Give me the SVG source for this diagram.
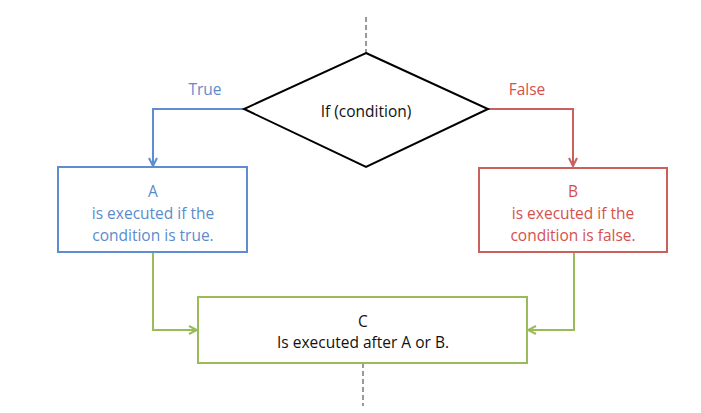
<svg xmlns="http://www.w3.org/2000/svg" width="701" height="413" viewBox="0 0 701 413">
<style>
text{font-family:"Open Sans","Liberation Sans",sans-serif;font-size:15.5px;text-anchor:middle}
.blue{fill:#5a8ccc}.red{fill:#d6504c}.black{fill:#111}
.ln{fill:none;stroke-width:2}
</style>
<defs>
<marker id="ab" viewBox="0 0 10 10" refX="9" refY="5" markerWidth="10" markerHeight="10" markerUnits="userSpaceOnUse" orient="auto"><path d="M1,1 L9,5 L1,9" fill="none" stroke="#5d8fd0" stroke-width="2"/></marker>
<marker id="ar" viewBox="0 0 10 10" refX="9" refY="5" markerWidth="10" markerHeight="10" markerUnits="userSpaceOnUse" orient="auto"><path d="M1,1 L9,5 L1,9" fill="none" stroke="#c9605c" stroke-width="2"/></marker>
<marker id="ag" viewBox="0 0 10 10" refX="9" refY="5" markerWidth="10" markerHeight="10" markerUnits="userSpaceOnUse" orient="auto"><path d="M1,1 L9,5 L1,9" fill="none" stroke="#9bbb59" stroke-width="2"/></marker>
</defs>
<rect width="701" height="413" fill="#fff"/>
<g id="connectors">
<line x1="366" y1="17" x2="366" y2="53" stroke="#999" stroke-width="2" stroke-dasharray="5,3"/>
<line x1="363" y1="363" x2="363" y2="406" stroke="#999" stroke-width="2" stroke-dasharray="5,3"/>
<path class="ln" d="M244,109 H153 V166" stroke="#5d8fd0" marker-end="url(#ab)"/>
<path class="ln" d="M488,109 H573 V166" stroke="#c9605c" marker-end="url(#ar)"/>
<path class="ln" d="M153,253 V330 H197" stroke="#9bbb59" marker-end="url(#ag)"/>
<path class="ln" d="M574,253 V330 H528" stroke="#9bbb59" marker-end="url(#ag)"/>
<text x="205" y="95" class="blue">True</text>
<text x="527" y="95" class="red">False</text>
</g>
<g id="decision">
<polygon points="366,53 488,109 366,167 244,109" fill="#fff" stroke="#000" stroke-width="2"/>
<text x="366" y="117" class="black">If (condition)</text>
</g>
<g id="nodeA">
<rect x="58" y="167" width="189" height="85" fill="#fff" stroke="#5d8fd0" stroke-width="2"/>
<text x="153" y="197" class="blue">A</text>
<text x="153" y="219" class="blue">is executed if the</text>
<text x="153" y="241" class="blue">condition is true.</text>
</g>
<g id="nodeB">
<rect x="479" y="168" width="188" height="84" fill="#fff" stroke="#c9605c" stroke-width="2"/>
<text x="573" y="197" class="red">B</text>
<text x="573" y="219" class="red">is executed if the</text>
<text x="573" y="241" class="red">condition is false.</text>
</g>
<g id="nodeC">
<rect x="198" y="297" width="329" height="66" fill="#fff" stroke="#9bbb59" stroke-width="2"/>
<text x="363" y="327" class="black">C</text>
<text x="363" y="348" class="black">Is executed after A or B.</text>
</g>
</svg>
